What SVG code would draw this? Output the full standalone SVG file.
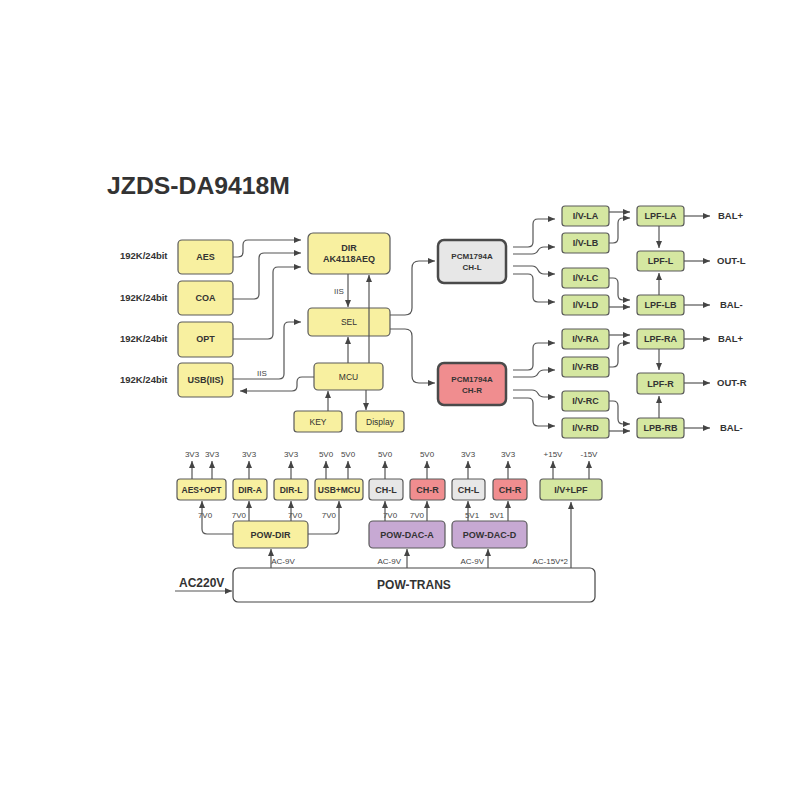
<svg xmlns="http://www.w3.org/2000/svg" width="800" height="800" viewBox="0 0 800 800">
<defs>
<marker id="ah" markerUnits="userSpaceOnUse" markerWidth="7" markerHeight="6" refX="7" refY="3" orient="auto">
<path d="M0,0 L7,3 L0,6 z" fill="#444"/>
</marker>
<style>
.y{fill:#f8f0a0;stroke:#5a5a5a;stroke-width:1.2}
.g{fill:#d5e7a1;stroke:#5a5a5a;stroke-width:1.2}
.gr{fill:#e7e7e7;stroke:#5a5a5a;stroke-width:1.2}
.r{fill:#f08d8f;stroke:#5a5a5a;stroke-width:1.2}
.p{fill:#c7a9d3;stroke:#5a5a5a;stroke-width:1.2}
.w{fill:#fff;stroke:#444;stroke-width:1.2}
.pcm{stroke:#4a4a4a;stroke-width:2.5}
text{font-family:"Liberation Sans",Arial,sans-serif;fill:#333}
.b{font-weight:bold;font-size:9px;text-anchor:middle}
.n{font-size:8.5px;text-anchor:middle}
.s{font-size:8px;fill:#444}
.lb{font-weight:bold;font-size:9.5px}
.c path{fill:none;stroke:#555;stroke-width:1.2}
.c .a{marker-end:url(#ah)}
</style>
</defs>
<rect width="800" height="800" fill="#fff"/>
<text x="107" y="194" font-size="24" font-weight="bold" fill="#2a2a2a" textLength="183" lengthAdjust="spacingAndGlyphs">JZDS-DA9418M</text>

<g id="inlabels">
<text class="lb" x="120" y="259">192K/24bit</text>
<text class="lb" x="120" y="301">192K/24bit</text>
<text class="lb" x="120" y="342">192K/24bit</text>
<text class="lb" x="120" y="383">192K/24bit</text>
</g>

<g id="aes"><rect class="y" x="178" y="240" width="55" height="34" rx="4"/><text class="b" x="205.5" y="260">AES</text></g>
<g id="coa"><rect class="y" x="178" y="281" width="55" height="34" rx="4"/><text class="b" x="205.5" y="301">COA</text></g>
<g id="opt"><rect class="y" x="178" y="322" width="55" height="35" rx="4"/><text class="b" x="205.5" y="342">OPT</text></g>
<g id="usb"><rect class="y" x="178" y="363" width="55" height="34" rx="4"/><text class="b" x="205.5" y="383">USB(IIS)</text></g>

<g id="dir"><rect class="y" x="308" y="233" width="82" height="41" rx="5"/><text class="b" x="349" y="251">DIR</text><text class="b" x="349" y="262">AK4118AEQ</text></g>
<g id="sel"><rect class="y" x="308" y="308" width="82" height="28" rx="4"/><text class="n" x="349" y="325">SEL</text></g>
<g id="mcu"><rect class="y" x="314" y="363" width="69" height="27" rx="4"/><text class="n" x="348.5" y="380">MCU</text></g>
<g id="key"><rect class="y" x="294" y="411" width="48" height="21" rx="3"/><text class="n" x="318" y="425">KEY</text></g>
<g id="display"><rect class="y" x="356" y="411" width="48" height="21" rx="3"/><text class="n" x="380" y="425">Display</text></g>

<g id="pcm-l"><rect class="gr pcm" x="438" y="240" width="68" height="43" rx="6"/><text class="b" font-size="8" x="472" y="259" style="font-size:8px">PCM1794A</text><text class="b" x="472" y="270" style="font-size:8px">CH-L</text></g>
<g id="pcm-r"><rect class="r pcm" x="438" y="363" width="68" height="42" rx="6"/><text class="b" x="472" y="382" style="font-size:8px">PCM1794A</text><text class="b" x="472" y="393" style="font-size:8px">CH-R</text></g>

<g id="iv-la"><rect class="g" x="562" y="206" width="47" height="20" rx="3"/><text class="b" x="585.5" y="219">I/V-LA</text></g>
<g id="iv-lb"><rect class="g" x="562" y="233" width="47" height="20" rx="3"/><text class="b" x="585.5" y="246">I/V-LB</text></g>
<g id="iv-lc"><rect class="g" x="562" y="268" width="47" height="20" rx="3"/><text class="b" x="585.5" y="281">I/V-LC</text></g>
<g id="iv-ld"><rect class="g" x="562" y="295" width="47" height="20" rx="3"/><text class="b" x="585.5" y="308">I/V-LD</text></g>
<g id="iv-ra"><rect class="g" x="562" y="329" width="47" height="20" rx="3"/><text class="b" x="585.5" y="342">I/V-RA</text></g>
<g id="iv-rb"><rect class="g" x="562" y="357" width="47" height="20" rx="3"/><text class="b" x="585.5" y="370">I/V-RB</text></g>
<g id="iv-rc"><rect class="g" x="562" y="391" width="47" height="20" rx="3"/><text class="b" x="585.5" y="404">I/V-RC</text></g>
<g id="iv-rd"><rect class="g" x="562" y="418" width="47" height="20" rx="3"/><text class="b" x="585.5" y="431">I/V-RD</text></g>

<g id="lpf-la"><rect class="g" x="637" y="206" width="47" height="20" rx="3"/><text class="b" x="660.5" y="219">LPF-LA</text></g>
<g id="lpf-l"><rect class="g" x="637" y="251" width="47" height="20" rx="3"/><text class="b" x="660.5" y="264">LPF-L</text></g>
<g id="lpf-lb"><rect class="g" x="637" y="295" width="47" height="20" rx="3"/><text class="b" x="660.5" y="308">LPF-LB</text></g>
<g id="lpf-ra"><rect class="g" x="637" y="329" width="47" height="20" rx="3"/><text class="b" x="660.5" y="342">LPF-RA</text></g>
<g id="lpf-r"><rect class="g" x="637" y="373" width="47" height="21" rx="3"/><text class="b" x="660.5" y="386.5">LPF-R</text></g>
<g id="lpb-rb"><rect class="g" x="637" y="418" width="47" height="20" rx="3"/><text class="b" x="660.5" y="431">LPB-RB</text></g>

<g id="outlabels">
<text class="lb" x="718" y="219">BAL+</text>
<text class="lb" x="717" y="264">OUT-L</text>
<text class="lb" x="720" y="308">BAL-</text>
<text class="lb" x="718" y="342">BAL+</text>
<text class="lb" x="717" y="386">OUT-R</text>
<text class="lb" x="720" y="431">BAL-</text>
</g>

<g id="aes-opt"><rect class="y" x="177" y="479" width="49" height="21" rx="3"/><text class="b" x="201.5" y="493" style="font-size:8.5px">AES+OPT</text></g>
<g id="dir-a"><rect class="y" x="233" y="479" width="34" height="21" rx="3"/><text class="b" x="250" y="493" style="font-size:8.5px">DIR-A</text></g>
<g id="dir-l"><rect class="y" x="274" y="479" width="34" height="21" rx="3"/><text class="b" x="291" y="493" style="font-size:8.5px">DIR-L</text></g>
<g id="usb-mcu"><rect class="y" x="315" y="479" width="48" height="21" rx="3"/><text class="b" x="339" y="493" style="font-size:8.5px">USB+MCU</text></g>
<g id="ch-l1"><rect class="gr" x="369" y="479" width="34" height="21" rx="3"/><text class="b" x="386" y="493">CH-L</text></g>
<g id="ch-r1"><rect class="r" x="410" y="479" width="35" height="21" rx="3"/><text class="b" x="427.5" y="493">CH-R</text></g>
<g id="ch-l2"><rect class="gr" x="452" y="479" width="33" height="21" rx="3"/><text class="b" x="468.5" y="493">CH-L</text></g>
<g id="ch-r2"><rect class="r" x="493" y="479" width="34" height="21" rx="3"/><text class="b" x="510" y="493">CH-R</text></g>
<g id="iv-lpf"><rect class="g" x="540" y="479" width="62" height="21" rx="3"/><text class="b" x="571" y="493">I/V+LPF</text></g>

<g id="pow-dir"><rect class="y" x="233" y="521" width="75" height="27" rx="4"/><text class="b" x="270.5" y="538">POW-DIR</text></g>
<g id="pow-dac-a"><rect class="p" x="369" y="521" width="76" height="27" rx="4"/><text class="b" x="407" y="538">POW-DAC-A</text></g>
<g id="pow-dac-d"><rect class="p" x="452" y="521" width="75" height="27" rx="4"/><text class="b" x="489.5" y="538">POW-DAC-D</text></g>
<g id="pow-trans"><rect class="w" x="233" y="568" width="362" height="34" rx="5"/><text x="414" y="589" font-size="12" font-weight="bold" text-anchor="middle">POW-TRANS</text></g>

<text x="179" y="587" font-size="12" font-weight="bold">AC220V</text>

<g id="volts" class="s" text-anchor="middle">
<text x="192" y="457" text-anchor="middle" class="s">3V3</text>
<text x="212" y="457" text-anchor="middle" class="s">3V3</text>
<text x="249" y="457" text-anchor="middle" class="s">3V3</text>
<text x="291" y="457" text-anchor="middle" class="s">3V3</text>
<text x="326" y="457" text-anchor="middle" class="s">5V0</text>
<text x="348" y="457" text-anchor="middle" class="s">5V0</text>
<text x="385" y="457" text-anchor="middle" class="s">5V0</text>
<text x="427" y="457" text-anchor="middle" class="s">5V0</text>
<text x="468" y="457" text-anchor="middle" class="s">3V3</text>
<text x="508" y="457" text-anchor="middle" class="s">3V3</text>
<text x="553" y="457" text-anchor="middle" class="s">+15V</text>
<text x="589" y="457" text-anchor="middle" class="s">-15V</text>
<text x="205" y="518" class="s">7V0</text>
<text x="246" y="518" text-anchor="end" class="s">7V0</text>
<text x="295" y="518" class="s">7V0</text>
<text x="336" y="518" text-anchor="end" class="s">7V0</text>
<text x="390" y="518" class="s">7V0</text>
<text x="424" y="518" text-anchor="end" class="s">7V0</text>
<text x="472" y="518" class="s">5V1</text>
<text x="504" y="518" text-anchor="end" class="s">5V1</text>
<text x="283" y="564" class="s">AC-9V</text>
<text x="401" y="564" text-anchor="end" class="s">AC-9V</text>
<text x="484" y="564" text-anchor="end" class="s">AC-9V</text>
<text x="568" y="564" text-anchor="end" class="s">AC-15V*2</text>
<text x="262" y="376" text-anchor="middle" class="s">IIS</text>
<text x="339" y="294" text-anchor="middle" class="s">IIS</text>
</g>

<g id="connectors" class="c">
<path class="a" d="M233,257 H238 Q243,257 243,252 V245 Q243,240 248,240 H301"/>
<path class="a" d="M233,299 H254 Q259,299 259,294 V258 Q259,253 264,253 H301"/>
<path class="a" d="M233,339 H268 Q273,339 273,334 V272 Q273,267 278,267 H301"/>
<path class="a" d="M233,379 H279 Q284,379 284,374 V327 Q284,322 289,322 H301"/>
<path class="a" d="M314,377 H302 Q297,377 297,382 V386 Q297,391 292,391 H240"/>
<path class="a" d="M348,274 V307"/>
<path class="a" d="M348,363 V337"/>
<path class="a" d="M369,363 V275"/>
<path class="a" d="M328,411 V391"/>
<path class="a" d="M366,390 V410"/>
<path class="a" d="M390,315 H405 Q412,315 412,308 V268 Q412,261 419,261 H435"/>
<path class="a" d="M390,329 H405 Q412,329 412,336 V376 Q412,383 419,383 H435"/>

<path class="a" d="M513,247 H528 Q533,247 533,242 V224 Q533,219 538,219 H555"/>
<path class="a" d="M513,254 H532 C540,254 536,247 544,247 H555"/>
<path class="a" d="M513,266 H532 C540,266 536,274 544,274 H555"/>
<path class="a" d="M513,274 H528 Q533,274 533,279 V297 Q533,302 538,302 H555"/>
<path class="a" d="M513,370 H528 Q533,370 533,365 V348 Q533,343 538,343 H555"/>
<path class="a" d="M513,377 H532 C540,377 536,370 544,370 H555"/>
<path class="a" d="M513,390 H532 C540,390 536,397 544,397 H555"/>
<path class="a" d="M513,398 H528 Q533,398 533,403 V421 Q533,426 538,426 H555"/>

<path class="a" d="M609,212 H630"/>
<path class="a" d="M609,243 H613 Q618,243 618,238 V223 Q618,218 623,218 H630"/>
<path class="a" d="M609,278 H613 Q618,278 618,283 V295 Q618,300 623,300 H630"/>
<path class="a" d="M609,307 H630"/>
<path class="a" d="M609,335 H630"/>
<path class="a" d="M609,367 H613 Q618,367 618,362 V348 Q618,343 623,343 H630"/>
<path class="a" d="M609,401 H613 Q618,401 618,406 V419 Q618,424 623,424 H630"/>
<path class="a" d="M609,431 H630"/>

<path class="a" d="M659,226 V248"/>
<path class="a" d="M659,295 V273"/>
<path class="a" d="M659,349 V370"/>
<path class="a" d="M659,418 V396"/>

<path class="a" d="M684,216 H710"/>
<path class="a" d="M684,261 H710"/>
<path class="a" d="M684,305 H710"/>
<path class="a" d="M684,339 H710"/>
<path class="a" d="M684,383 H710"/>
<path class="a" d="M684,428 H710"/>

<path class="a" d="M192,479 V461"/>
<path class="a" d="M212,479 V461"/>
<path class="a" d="M249,479 V461"/>
<path class="a" d="M291,479 V461"/>
<path class="a" d="M326,479 V461"/>
<path class="a" d="M348,479 V461"/>
<path class="a" d="M385,479 V461"/>
<path class="a" d="M427,479 V461"/>
<path class="a" d="M468,479 V461"/>
<path class="a" d="M508,479 V461"/>
<path class="a" d="M553,479 V461"/>
<path class="a" d="M589,479 V461"/>

<path class="a" d="M233,534 H207 Q202,534 202,529 V501"/>
<path class="a" d="M249,521 V501"/>
<path class="a" d="M291,521 V501"/>
<path class="a" d="M308,534 H334 Q339,534 339,529 V501"/>
<path class="a" d="M385,521 V501"/>
<path class="a" d="M427,521 V501"/>
<path class="a" d="M468,521 V501"/>
<path class="a" d="M508,521 V501"/>

<path class="a" d="M271,568 V549"/>
<path class="a" d="M407,568 V549"/>
<path class="a" d="M488,568 V549"/>
<path class="a" d="M571,568 V502"/>
<path class="a" d="M175,591 H232"/>
</g>
</svg>
